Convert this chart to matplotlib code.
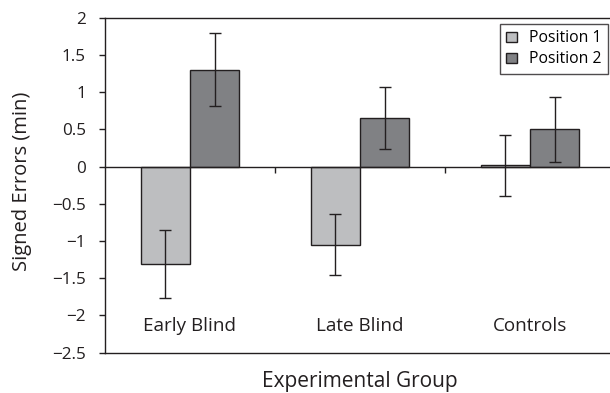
import numpy as np
import matplotlib
matplotlib.use('Agg')
import matplotlib.pyplot as plt

plt.rcParams['font.family'] = ['Open Sans', 'DejaVu Sans']

groups = ['Early Blind', 'Late Blind', 'Controls']
pos1 = [-1.31, -1.05, 0.015]
pos1_err = [0.455, 0.405, 0.415]
pos2 = [1.30, 0.65, 0.50]
pos2_err = [0.49, 0.415, 0.44]
yticks = [2, 1.5, 1, 0.5, 0, -0.5, -1, -1.5, -2, -2.5]

ink = '#231f20'
fig = plt.figure(figsize=(6.10, 3.93), dpi=100)
ax = fig.add_axes([0.172, 0.103, 0.836, 0.852])

x = np.arange(len(groups))
w = 0.29
ekw = dict(ecolor=ink, elinewidth=1.0, capsize=4.3, capthick=1.0)
ax.bar(x - w / 2, pos1, w, color='#bdbec0', edgecolor=ink,
       linewidth=1.0, label='Position 1', yerr=pos1_err, error_kw=ekw, zorder=2)
ax.bar(x + w / 2, pos2, w, color='#808184', edgecolor=ink,
       linewidth=1.0, label='Position 2', yerr=pos2_err, error_kw=ekw, zorder=2)

ax.set_xlim(-0.5, 2.5)
ax.set_ylim(-2.5, 2)
ax.set_yticks(yticks)
ax.set_yticklabels([('%g' % v).replace('-', '\u2212') for v in yticks],
                   fontsize=12.3, color=ink)
ax.tick_params(axis='y', direction='out', length=4.3, width=1, color=ink, pad=9.5)

# category axis sits at zero, ticks between categories
ax.spines['bottom'].set_position(('data', 0))
ax.spines['right'].set_visible(False)
for s in ['left', 'top', 'bottom']:
    ax.spines[s].set_color(ink)
    ax.spines[s].set_linewidth(1.0)
ax.set_xticks([0.5, 1.5])
ax.set_xticklabels([])
ax.tick_params(axis='x', direction='out', length=4, width=1, color=ink)
# plot area border at the bottom
ax.axhline(ax.get_ylim()[0], color=ink, linewidth=1.0, clip_on=False)

for i, g in enumerate(groups):
    ax.text(i, -2.14, g, ha='center', va='center', fontsize=13.6, color=ink)

# axis titles, placed in figure pixels
fig.text(22, 393 - 181, 'Signed Errors (min)', rotation=90, ha='center',
         va='center', fontsize=14.5, color=ink, transform=None)
fig.text(360, 393 - 382, 'Experimental Group', ha='center', va='center',
         fontsize=15, color=ink, transform=None)

leg = ax.legend(loc='upper right', bbox_to_anchor=(608 / 610, (393 - 24) / 393),
                bbox_transform=fig.transFigure, fontsize=11.3, frameon=True,
                fancybox=False, edgecolor=ink, handlelength=0.65,
                handleheight=0.65, handletextpad=0.8, borderpad=0.4,
                labelspacing=0.32, borderaxespad=0)
leg.get_frame().set_linewidth(1.0)

fig.savefig('out.png', dpi=100)
